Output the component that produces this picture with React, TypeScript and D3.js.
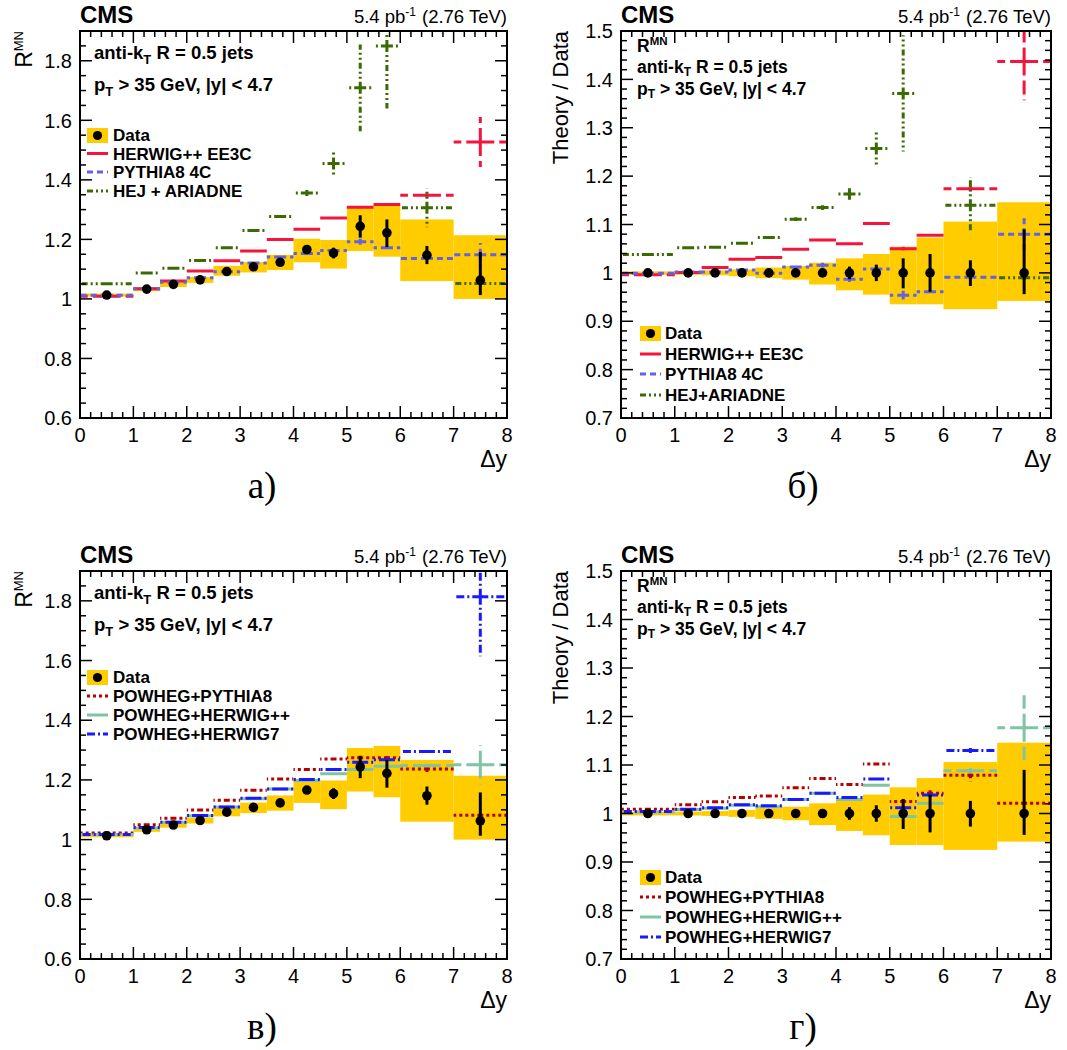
import React from "react";
import * as d3 from "d3";

// ---------------- DATA ----------------
const binEdges = [0, 1, 1.5, 2, 2.5, 3, 3.5, 4, 4.5, 5, 5.5, 6, 7, 8];
const binCenters = [0.5, 1.25, 1.75, 2.25, 2.75, 3.25, 3.75, 4.25, 4.75, 5.25, 5.75, 6.5, 7.5];

const xTickLabels = ["0", "1", "2", "3", "4", "5", "6", "7", "8"];
const xTickValues = [0, 1, 2, 3, 4, 5, 6, 7, 8];
const yTickValuesR = [0.6, 0.8, 1.0, 1.2, 1.4, 1.6, 1.8];
const yTickLabelsR = ["0.6", "0.8", "1", "1.2", "1.4", "1.6", "1.8"];
const yTickValuesRatio = [0.7, 0.8, 0.9, 1.0, 1.1, 1.2, 1.3, 1.4, 1.5];
const yTickLabelsRatio = ["0.7", "0.8", "0.9", "1", "1.1", "1.2", "1.3", "1.4", "1.5"];

// R^MN data
const dataR = [1.013, 1.033, 1.049, 1.064, 1.092, 1.108, 1.123, 1.166, 1.154, 1.244, 1.222, 1.147, 1.063];
const dataRStatLo = [0.003, 0.003, 0.003, 0.004, 0.004, 0.005, 0.006, 0.014, 0.018, 0.038, 0.048, 0.030, 0.050];
const dataRStatHi = [0.003, 0.003, 0.003, 0.004, 0.004, 0.005, 0.006, 0.014, 0.018, 0.037, 0.045, 0.031, 0.095];
const dataRSysLo = [1.008, 1.026, 1.040, 1.054, 1.078, 1.089, 1.097, 1.123, 1.102, 1.161, 1.142, 1.060, 1.000];
const dataRSysHi = [1.018, 1.040, 1.060, 1.074, 1.111, 1.124, 1.148, 1.202, 1.198, 1.307, 1.314, 1.267, 1.214];

// Theory / Data: data ratio
const ratioData = [1, 1, 1, 1, 1, 1, 1, 1, 1, 1, 1, 1, 1];
const ratioStatLo = [0.003, 0.003, 0.003, 0.003, 0.004, 0.005, 0.006, 0.013, 0.017, 0.032, 0.039, 0.027, 0.044];
const ratioStatHi = [0.003, 0.003, 0.003, 0.003, 0.004, 0.005, 0.006, 0.013, 0.017, 0.030, 0.039, 0.026, 0.090];
const ratioSysLo = [0.996, 0.996, 0.995, 0.993, 0.989, 0.986, 0.976, 0.964, 0.955, 0.935, 0.935, 0.925, 0.942];
const ratioSysHi = [1.003, 1.004, 1.005, 1.007, 1.011, 1.014, 1.021, 1.030, 1.039, 1.054, 1.073, 1.106, 1.146];

// Panel a: R^MN models
const herwigR = [1.009, 1.034, 1.060, 1.094, 1.128, 1.161, 1.200, 1.234, 1.272, 1.308, 1.317, 1.348, 1.527];
const herwigRErr = [0.002, 0.002, 0.002, 0.002, 0.002, 0.002, 0.003, 0.003, 0.004, 0.005, 0.005, 0.007, 0.084];
const pythiaR = [1.012, 1.034, 1.056, 1.071, 1.091, 1.121, 1.141, 1.153, 1.163, 1.192, 1.172, 1.136, 1.148];
const pythiaRErr = [0.002, 0.002, 0.002, 0.002, 0.002, 0.002, 0.003, 0.004, 0.004, 0.010, 0.003, 0.003, 0.040];
const hejR = [1.051, 1.087, 1.103, 1.129, 1.172, 1.230, 1.277, 1.356, 1.455, 1.709, 1.850, 1.306, 1.052];
const hejRErr = [0.002, 0.002, 0.002, 0.002, 0.003, 0.003, 0.004, 0.010, 0.043, 0.146, 0.210, 0.065, 0.004];

// Panel b: Theory / Data models
const herwigRatio = [0.996, 1.001, 1.011, 1.028, 1.032, 1.049, 1.068, 1.060, 1.102, 1.050, 1.078, 1.174, 1.437];
const herwigRatioErr = [0.002, 0.002, 0.002, 0.002, 0.002, 0.002, 0.002, 0.002, 0.003, 0.004, 0.003, 0.006, 0.080];
const pythiaRatio = [0.999, 1.002, 1.002, 1.006, 0.999, 1.012, 1.016, 0.987, 1.008, 0.954, 0.961, 0.991, 1.080];
const pythiaRatioErr = [0.002, 0.002, 0.002, 0.002, 0.002, 0.003, 0.005, 0.006, 0.004, 0.009, 0.003, 0.003, 0.040];
const hejRatio = [1.038, 1.052, 1.053, 1.061, 1.073, 1.111, 1.135, 1.163, 1.257, 1.371, 1.514, 1.140, 0.990];
const hejRatioErr = [0.002, 0.002, 0.002, 0.002, 0.002, 0.004, 0.005, 0.012, 0.037, 0.120, 0.170, 0.058, 0.004];

// Panel c: R^MN POWHEG models
const powPyR = [1.022, 1.050, 1.072, 1.099, 1.132, 1.165, 1.203, 1.235, 1.270, 1.274, 1.274, 1.237, 1.082];
const powPyRErr = [0.002, 0.002, 0.002, 0.002, 0.002, 0.002, 0.002, 0.003, 0.003, 0.004, 0.006, 0.012, 0.004];
const powHwppR = [1.017, 1.039, 1.058, 1.080, 1.109, 1.137, 1.170, 1.198, 1.221, 1.235, 1.246, 1.248, 1.251];
const powHwppRErr = [0.002, 0.002, 0.002, 0.002, 0.002, 0.002, 0.002, 0.003, 0.003, 0.004, 0.004, 0.006, 0.066];
const powHw7R = [1.017, 1.041, 1.058, 1.081, 1.109, 1.139, 1.170, 1.201, 1.235, 1.259, 1.268, 1.295, 1.814];
const powHw7RErr = [0.002, 0.002, 0.002, 0.002, 0.002, 0.002, 0.002, 0.003, 0.003, 0.004, 0.004, 0.005, 0.200];

// Panel d: Theory / Data POWHEG models
const powPyRatio = [1.009, 1.018, 1.024, 1.033, 1.036, 1.053, 1.072, 1.060, 1.102, 1.025, 1.042, 1.079, 1.021];
const powPyRatioErr = [0.002, 0.002, 0.002, 0.002, 0.002, 0.002, 0.002, 0.002, 0.003, 0.004, 0.006, 0.013, 0.004];
const powHwppRatio = [1.003, 1.008, 1.011, 1.017, 1.014, 1.029, 1.042, 1.029, 1.058, 0.994, 1.021, 1.088, 1.177];
const powHwppRatioErr = [0.002, 0.002, 0.002, 0.002, 0.002, 0.002, 0.002, 0.002, 0.003, 0.004, 0.004, 0.006, 0.067];
const powHw7Ratio = [1.004, 1.009, 1.012, 1.018, 1.016, 1.029, 1.042, 1.033, 1.071, 1.012, 1.038, 1.130, 1.706];
const powHw7RatioErr = [0.002, 0.002, 0.002, 0.002, 0.002, 0.002, 0.002, 0.002, 0.003, 0.004, 0.004, 0.005, 0.190];

// ---------------- STYLES ----------------
const BAND = "#ffcc00";
const styles: Record<string, { color: string; dash: string }> = {
  herwig: { color: "#f5143c", dash: "14,5" },
  pythia: { color: "#6262e2", dash: "6,4" },
  hej: { color: "#3a6a00", dash: "6,3,2,3,2,3" },
  powPy: { color: "#b80000", dash: "3,3" },
  powHwpp: { color: "#80c4a4", dash: "14,5" },
  powHw7: { color: "#1a1aff", dash: "8,3,2,3" },
};

const FONT = "'Liberation Sans', Arial, Helvetica, sans-serif";

type Model = { key: string; label: string; values: number[]; errs: number[] };

type PanelCfg = {
  id: string;
  x0: number; x1: number; y0: number; y1: number;
  ratio: boolean;
  data: number[]; statLo: number[]; statHi: number[]; sysLo: number[]; sysHi: number[];
  models: Model[];
  legendY: number[];
  letter: string;
};

function Panel({ cfg }: { cfg: PanelCfg }) {
  const { x0, x1, y0, y1, ratio } = cfg;
  const ymin = ratio ? 0.7 : 0.6;
  const ymax = ratio ? 1.5 : 1.9;
  const xs = d3.scaleLinear().domain([0, 8]).range([x0, x1]);
  const ys = d3.scaleLinear().domain([ymin, ymax]).range([y1, y0]);
  const clipId = `clip-${cfg.id}`;

  const majLen = 12;
  const minLen = 6;
  const xMinor = d3.range(0, 8.0001, 0.2).filter((v) => Math.abs(v - Math.round(v)) > 1e-6);
  const yMinorStep = ratio ? 0.02 : 0.05;
  const yMajorVals = ratio ? yTickValuesRatio : yTickValuesR;
  const yMajorLabels = ratio ? yTickLabelsRatio : yTickLabelsR;
  const yMinor = d3
    .range(ymin, ymax + 1e-6, yMinorStep)
    .filter((v) => !yMajorVals.some((m) => Math.abs(m - v) < 1e-6));

  const textX = ratio ? x0 + 16 : x0 + 14;
  const legSymX0 = ratio ? x0 + 19 : x0 + 7;
  const legSymX1 = legSymX0 + 21;
  const legTextX = legSymX1 + 4 + (ratio ? 0 : 1);

  const modelPath = (vals: number[], errs: number[]) => {
    let p = "";
    vals.forEach((v, i) => {
      if (v < ymin || v > ymax) return;
      const c = xs(binCenters[i]);
      const y = ys(v);
      p += `M${c},${y}L${xs(binEdges[i])},${y}`;
      p += `M${c},${y}L${xs(binEdges[i + 1])},${y}`;
      p += `M${c},${y}L${c},${ys(v + errs[i])}`;
      p += `M${c},${y}L${c},${ys(v - errs[i])}`;
    });
    return p;
  };

  return (
    <g>
      <defs>
        <clipPath id={clipId}>
          <rect x={x0} y={y0} width={x1 - x0} height={y1 - y0} />
        </clipPath>
      </defs>
      {/* header */}
      <text x={x0} y={y0 - 8} fontFamily={FONT} fontWeight="bold" fontSize={24}>CMS</text>
      <text x={x1} y={y0 - 8} fontFamily={FONT} fontSize={18.5} textAnchor="end">
        5.4 pb<tspan dy={-7} fontSize={12}>-1</tspan>
        <tspan dy={7} dx={6}>(2.76 TeV)</tspan>
      </text>

      {/* y title */}
      {ratio ? (
        <text transform={`translate(${x0 - 53},${y0}) rotate(-90)`} textAnchor="end" fontFamily={FONT} fontSize={22}>
          Theory / Data
        </text>
      ) : (
        <text transform={`translate(${x0 - 48},${y0}) rotate(-90)`} textAnchor="end" fontFamily={FONT} fontSize={23}>
          R<tspan dy={-9} fontSize={13}>MN</tspan>
        </text>
      )}

      {/* x title */}
      <text x={x1} y={y1 + 49} textAnchor="end" fontFamily={FONT} fontSize={23}>Δy</text>

      {/* letter */}
      <text x={x0 + 182} y={y1 + 80} textAnchor="middle" fontFamily="'Liberation Serif', 'DejaVu Serif', serif" fontSize={37}>
        {cfg.letter}
      </text>

      <g clipPath={`url(#${clipId})`}>
        {/* band */}
        {cfg.sysLo.map((lo, i) => (
          <rect
            key={`b${i}`}
            x={xs(binEdges[i])}
            width={xs(binEdges[i + 1]) - xs(binEdges[i])}
            y={ys(cfg.sysHi[i])}
            height={ys(lo) - ys(cfg.sysHi[i])}
            fill={BAND}
          />
        ))}
        {/* models */}
        {cfg.models.map((m) => (
          <path
            key={m.key}
            d={modelPath(m.values, m.errs)}
            fill="none"
            stroke={styles[m.key].color}
            strokeWidth={3}
            strokeDasharray={styles[m.key].dash}
          />
        ))}
        {/* data */}
        {cfg.data.map((v, i) => (
          <g key={`d${i}`}>
            <line
              x1={xs(binCenters[i])}
              x2={xs(binCenters[i])}
              y1={ys(v + cfg.statHi[i])}
              y2={ys(v - cfg.statLo[i])}
              stroke="#000"
              strokeWidth={3}
            />
            <circle cx={xs(binCenters[i])} cy={ys(v)} r={4.8} fill="#000" />
          </g>
        ))}
      </g>

      {/* inner texts */}
      {ratio ? (
        <g fontFamily={FONT} fontWeight="bold" fontSize={17.5}>
          <text x={textX} y={y0 + 21}>
            R<tspan dy={-7} fontSize={11.5}>MN</tspan>
          </text>
          <text x={textX} y={y0 + 42}>
            anti-k<tspan dy={3} fontSize={12}>T</tspan><tspan dy={-3}> R = 0.5 jets</tspan>
          </text>
          <text x={textX} y={y0 + 64}>
            p<tspan dy={3} fontSize={12}>T</tspan><tspan dy={-3}> &gt; 35 GeV, |y| &lt; 4.7</tspan>
          </text>
        </g>
      ) : (
        <g fontFamily={FONT} fontWeight="bold" fontSize={18.5}>
          <text x={textX} y={y0 + 28}>
            anti-k<tspan dy={5} fontSize={13}>T</tspan><tspan dy={-5}> R = 0.5 jets</tspan>
          </text>
          <text x={textX} y={y0 + 60}>
            p<tspan dy={5} fontSize={13}>T</tspan><tspan dy={-5}> &gt; 35 GeV, |y| &lt; 4.7</tspan>
          </text>
        </g>
      )}

      {/* legend */}
      <g fontFamily={FONT} fontWeight="bold" fontSize={17}>
        <rect x={legSymX0} y={cfg.legendY[0] - 13} width={21} height={15} fill={BAND} />
        <circle cx={(legSymX0 + legSymX1) / 2} cy={cfg.legendY[0] - 5.5} r={4.6} fill="#000" />
        <text x={legTextX} y={cfg.legendY[0]}>Data</text>
        {cfg.models.map((m, k) => (
          <g key={`l${m.key}`}>
            <line
              x1={legSymX0}
              x2={legSymX1}
              y1={cfg.legendY[k + 1] - 6}
              y2={cfg.legendY[k + 1] - 6}
              stroke={styles[m.key].color}
              strokeWidth={3}
              strokeDasharray={m.key === "herwig" || m.key === "powHwpp" ? "none" : styles[m.key].dash}
            />
            <text x={legTextX} y={cfg.legendY[k + 1]}>{m.label}</text>
          </g>
        ))}
      </g>

      {/* axes ticks */}
      <g stroke="#000" strokeWidth={1.5}>
        {xTickValues.map((v) => (
          <g key={`xt${v}`}>
            <line x1={xs(v)} x2={xs(v)} y1={y1} y2={y1 - majLen} />
            <line x1={xs(v)} x2={xs(v)} y1={y0} y2={y0 + majLen} />
          </g>
        ))}
        {xMinor.map((v, i) => (
          <g key={`xm${i}`}>
            <line x1={xs(v)} x2={xs(v)} y1={y1} y2={y1 - minLen} />
            <line x1={xs(v)} x2={xs(v)} y1={y0} y2={y0 + minLen} />
          </g>
        ))}
        {yMajorVals.map((v) => (
          <g key={`yt${v}`}>
            <line x1={x0} x2={x0 + majLen} y1={ys(v)} y2={ys(v)} />
            <line x1={x1} x2={x1 - majLen} y1={ys(v)} y2={ys(v)} />
          </g>
        ))}
        {yMinor.map((v, i) => (
          <g key={`ym${i}`}>
            <line x1={x0} x2={x0 + minLen} y1={ys(v)} y2={ys(v)} />
            <line x1={x1} x2={x1 - minLen} y1={ys(v)} y2={ys(v)} />
          </g>
        ))}
      </g>
      <rect x={x0} y={y0} width={x1 - x0} height={y1 - y0} fill="none" stroke="#000" strokeWidth={2} />

      {/* tick labels */}
      <g fontFamily={FONT} fontSize={20}>
        {xTickValues.map((v, i) => (
          <text key={`xl${v}`} x={xs(v)} y={y1 + 24} textAnchor="middle">{xTickLabels[i]}</text>
        ))}
        {yMajorVals.map((v, i) => (
          <text key={`yl${v}`} x={x0 - 8} y={ys(v)} dy="0.36em" textAnchor="end">{yMajorLabels[i]}</text>
        ))}
      </g>
    </g>
  );
}

const panels: PanelCfg[] = [
  {
    id: "a", x0: 80, x1: 507, y0: 31, y1: 418, ratio: false,
    data: dataR, statLo: dataRStatLo, statHi: dataRStatHi, sysLo: dataRSysLo, sysHi: dataRSysHi,
    models: [
      { key: "herwig", label: "HERWIG++ EE3C", values: herwigR, errs: herwigRErr },
      { key: "pythia", label: "PYTHIA8 4C", values: pythiaR, errs: pythiaRErr },
      { key: "hej", label: "HEJ + ARIADNE", values: hejR, errs: hejRErr },
    ],
    legendY: [141, 159.5, 178, 197],
    letter: "а)",
  },
  {
    id: "b", x0: 621, x1: 1051, y0: 31, y1: 418, ratio: true,
    data: ratioData, statLo: ratioStatLo, statHi: ratioStatHi, sysLo: ratioSysLo, sysHi: ratioSysHi,
    models: [
      { key: "herwig", label: "HERWIG++ EE3C", values: herwigRatio, errs: herwigRatioErr },
      { key: "pythia", label: "PYTHIA8 4C", values: pythiaRatio, errs: pythiaRatioErr },
      { key: "hej", label: "HEJ+ARIADNE", values: hejRatio, errs: hejRatioErr },
    ],
    legendY: [339, 360, 380, 401],
    letter: "б)",
  },
  {
    id: "c", x0: 80, x1: 507, y0: 571, y1: 959, ratio: false,
    data: dataR, statLo: dataRStatLo, statHi: dataRStatHi, sysLo: dataRSysLo, sysHi: dataRSysHi,
    models: [
      { key: "powPy", label: "POWHEG+PYTHIA8", values: powPyR, errs: powPyRErr },
      { key: "powHwpp", label: "POWHEG+HERWIG++", values: powHwppR, errs: powHwppRErr },
      { key: "powHw7", label: "POWHEG+HERWIG7", values: powHw7R, errs: powHw7RErr },
    ],
    legendY: [683, 702, 721, 740],
    letter: "в)",
  },
  {
    id: "d", x0: 621, x1: 1051, y0: 571, y1: 959, ratio: true,
    data: ratioData, statLo: ratioStatLo, statHi: ratioStatHi, sysLo: ratioSysLo, sysHi: ratioSysHi,
    models: [
      { key: "powPy", label: "POWHEG+PYTHIA8", values: powPyRatio, errs: powPyRatioErr },
      { key: "powHwpp", label: "POWHEG+HERWIG++", values: powHwppRatio, errs: powHwppRatioErr },
      { key: "powHw7", label: "POWHEG+HERWIG7", values: powHw7Ratio, errs: powHw7RatioErr },
    ],
    legendY: [883, 903, 923, 943],
    letter: "г)",
  },
];

export default function App() {
  return (
    <svg
      width={1067}
      height={1050}
      style={{ position: "absolute", left: 0, top: 0, background: "#fff" }}
    >
      <rect x={0} y={0} width={1067} height={1050} fill="#fff" />
      {panels.map((p) => (
        <Panel key={p.id} cfg={p} />
      ))}
    </svg>
  );
}
